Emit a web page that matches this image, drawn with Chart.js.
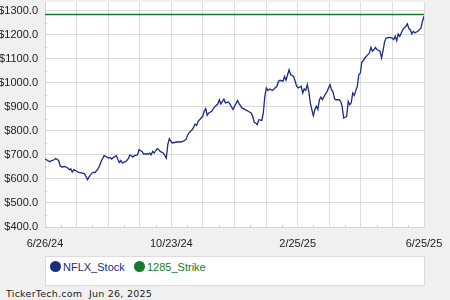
<!DOCTYPE html>
<html>
<head>
<meta charset="utf-8">
<script src="https://cdn.jsdelivr.net/npm/chart.js@4"></script>
<style>
  body { margin: 0; background: #f0f0f0; }
  #wrap { position: relative; width: 450px; height: 300px; background: #f0f0f0; overflow: hidden; }
  #chart { position: absolute; left: 0; top: 0; }
  #legend { position: absolute; left: 45px; top: 256px; width: 380px; height: 30px; box-sizing: border-box;
            background: #fff; border: 1px solid #dcdcdc; }
  .dot { position: absolute; width: 11px; height: 11px; border-radius: 50%; top: 261px; }
  .lbl { position: absolute; top: 261px; font: 11px "Liberation Sans", Arial, sans-serif; line-height: 12px; }
  #footer { position: absolute; left: 6px; top: 288px; font: 9.5px "DejaVu Sans", Verdana, sans-serif;
            color: #222; letter-spacing: 0.25px; white-space: pre; }
</style>
</head>
<body>
<div id="wrap">
  <canvas id="chart" width="450" height="250"></canvas>
  <div id="legend"></div>
  <div class="dot" style="left:50px;background:#1b2d7c"></div>
  <div class="lbl" style="left:63px;color:#1b2d7c">NFLX_Stock</div>
  <div class="dot" style="left:134px;background:#167a2c"></div>
  <div class="lbl" style="left:147px;color:#167a2c">1285_Strike</div>
  <div id="footer">TickerTech.com  Jun 26, 2025</div>
</div>
<script>
// trading day index (0 = 6/26/24, 250 = 6/25/25) and closing price
const tradingDays = [
  0, 1, 3, 4, 6, 7, 9, 10, 11, 13, 15, 16, 17, 18, 19, 21, 22, 24, 26, 27,
  28, 29, 31, 32, 33, 35, 36, 37, 39, 40, 42, 43, 44, 45, 47, 48, 49, 50, 51, 53,
  54, 55, 56, 58, 59, 61, 62, 64, 65, 68, 69, 70, 71, 72, 74, 75, 76, 78, 79, 80,
  81, 82, 83, 84, 87, 89, 91, 93, 94, 95, 97, 98, 99, 100, 101, 103, 104, 105, 106, 107,
  108, 110, 111, 113, 114, 115, 116, 118, 119, 121, 122, 124, 125, 126, 127, 128, 130, 132, 134, 136,
  137, 138, 139, 140, 141, 143, 144, 145, 146, 147, 148, 150, 151, 153, 154, 155, 157, 158, 159, 160,
  161, 162, 164, 165, 166, 167, 169, 170, 171, 172, 173, 174, 175, 176, 177, 178, 179, 180, 181, 182,
  183, 185, 186, 187, 188, 189, 190, 191, 192, 194, 195, 196, 197, 198, 199, 200, 201, 202, 203, 204,
  205, 206, 207, 208, 209, 210, 211, 213, 214, 215, 216, 217, 218, 219, 221, 222, 223, 224, 225, 227,
  229, 230, 231, 232, 233, 234, 235, 236, 238, 239, 240, 241, 242, 243, 244, 245, 246, 247, 248, 249,
  250
];
const nflxPrices = [
  683, 680, 672, 675, 680, 685, 677, 655, 650, 652, 646, 639, 642, 629, 639, 632, 627, 625, 622, 611,
  597, 608, 625, 627, 627, 642, 655, 673, 697, 694, 687, 689, 683, 689, 697, 683, 669, 677, 667, 672,
  677, 686, 700, 692, 697, 700, 722, 715, 704, 704, 708, 701, 715, 708, 726, 722, 715, 708, 698, 687,
  743, 768, 757, 750, 754, 754, 757, 764, 782, 792, 805, 815, 829, 823, 840, 854, 861, 882, 893, 865,
  875, 882, 893, 907, 912, 930, 912, 932, 917, 921, 912, 889, 903, 914, 927, 914, 896, 889, 882, 875,
  861, 836, 833, 826, 847, 844, 875, 944, 979, 969, 975, 969, 975, 986, 1007, 1011, 1007, 1027, 1011, 1034,
  1055, 1034, 1027, 1007, 986, 979, 986, 958, 975, 969, 993, 965, 917, 889, 863, 889, 903, 889, 930, 941,
  930, 954, 962, 979, 993, 972, 962, 934, 930, 930, 923, 903, 854, 857, 861, 923, 909, 917, 958, 948,
  968, 986, 1034, 1041, 1087, 1093, 1104, 1118, 1125, 1148, 1132, 1139, 1148, 1139, 1132, 1104, 1135, 1171, 1187, 1190,
  1187, 1180, 1194, 1176, 1204, 1194, 1208, 1222, 1236, 1246, 1226, 1222, 1204, 1215, 1208, 1212, 1215, 1222, 1229, 1257,
  1278
];
const strikePrice = 1285;
const dateLabels = ["6/26/24", "10/23/24", "2/25/25", "6/25/25"];
const lastDay = 250;

const plotBackground = {
  id: "plotBackground",
  beforeDraw(chart) {
    const { ctx, chartArea: a } = chart;
    ctx.save();
    ctx.fillStyle = "#ffffff";
    ctx.fillRect(a.left, a.top, a.right - a.left, a.bottom - a.top);
    ctx.restore();
  },
  beforeDatasetsDraw(chart) {
    // small ticks half way between grid lines, inside the plot
    const { ctx, chartArea: a, scales } = chart;
    ctx.save();
    ctx.strokeStyle = "#cfcfcf";
    ctx.lineWidth = 1;
    ctx.beginPath();
    const xt = scales.x.ticks;
    for (let i = 0; i < xt.length - 1; i++) {
      const px = Math.round(scales.x.getPixelForValue((xt[i].value + xt[i + 1].value) / 2)) + 0.5;
      ctx.moveTo(px, a.bottom - 2);
      ctx.lineTo(px, a.bottom);
    }
    const yt = scales.y.ticks;
    for (let i = 0; i < yt.length - 1; i++) {
      const py = Math.round(scales.y.getPixelForValue((yt[i].value + yt[i + 1].value) / 2)) + 0.5;
      ctx.moveTo(a.left, py);
      ctx.lineTo(a.left + 2, py);
    }
    ctx.stroke();
    ctx.restore();
  },
};

new Chart(document.getElementById("chart"), {
  type: "line",
  data: {
    datasets: [
      {
        label: "NFLX_Stock",
        data: tradingDays.map((d, i) => ({ x: d, y: nflxPrices[i] })),
        borderColor: "#1b2d7c",
        borderWidth: 1.3,
        pointRadius: 0,
        tension: 0,
      },
      {
        label: "1285_Strike",
        data: [{ x: 0, y: strikePrice }, { x: lastDay, y: strikePrice }],
        borderColor: "#167a2c",
        borderWidth: 1.5,
        pointRadius: 0,
      },
    ],
  },
  options: {
    responsive: false,
    animation: false,
    layout: { padding: { top: 2, right: 26, left: 0, bottom: 0 } },
    plugins: { legend: { display: false }, tooltip: { enabled: false } },
    scales: {
      x: {
        type: "linear",
        min: 0,
        max: lastDay,
        afterBuildTicks: (scale) => {
          scale.ticks = [];
          for (let i = 0; i <= 12; i++) scale.ticks.push({ value: (i * lastDay) / 12 });
        },
        afterFit: (scale) => {
          scale.height = 23;
          scale.paddingLeft = 0;
          scale.paddingRight = 0;
        },
        grid: { color: "#dcdcdc", drawTicks: false },
        border: { color: "#d4d4d4" },
        ticks: {
          autoSkip: false,
          maxRotation: 0,
          padding: 10,
          color: "#222",
          font: { family: "'Liberation Sans', Arial", size: 11 },
          callback: (v, i) => (i % 4 === 0 ? dateLabels[i / 4] : ""),
        },
      },
      y: {
        min: 400,
        max: 1337,
        afterFit: (scale) => {
          scale.width = 45;
          scale.paddingTop = 0;
          scale.paddingBottom = 0;
        },
        grid: { color: "#dcdcdc", drawTicks: false },
        border: { color: "#d4d4d4" },
        ticks: {
          stepSize: 100,
          includeBounds: false,
          padding: 7,
          color: "#222",
          font: { family: "'Liberation Sans', Arial", size: 11 },
          callback: (v) => "$" + v.toFixed(1),
        },
      },
    },
  },
  plugins: [plotBackground],
});
</script>
</body>
</html>
